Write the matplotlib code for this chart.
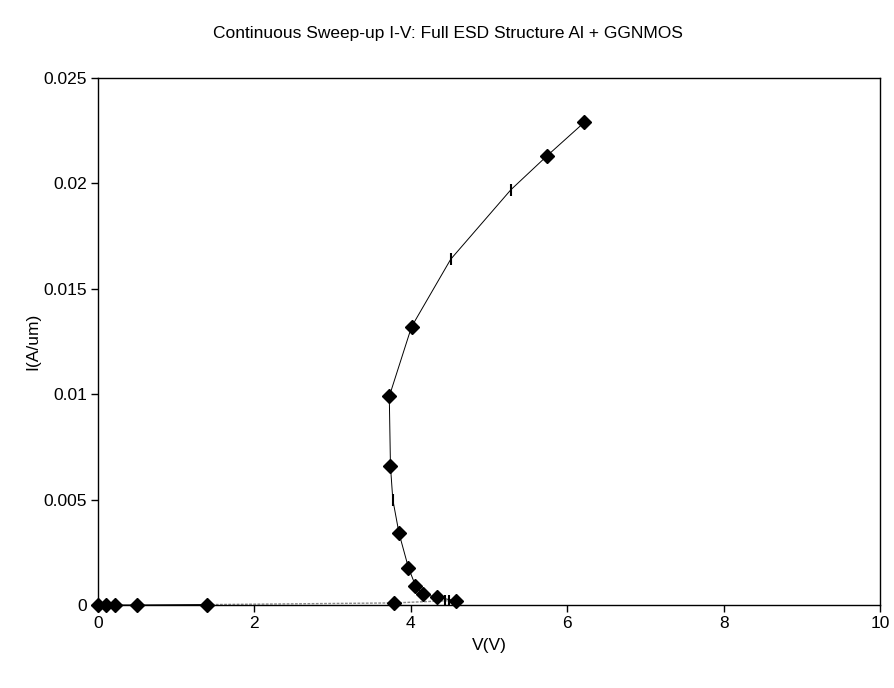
import matplotlib
matplotlib.use("Agg")
import matplotlib.pyplot as plt

plt.rcParams['font.family'] = ['Liberation Sans', 'DejaVu Sans']

# measured sweep points (diamonds)
v_meas = [0.0, 0.1, 0.22, 0.5, 1.4, 3.79, 4.58, 4.33, 4.15, 4.06, 3.97, 3.85, 3.74, 3.725, 4.01, 5.74, 6.22]
i_meas = [0.0, 0.0, 0.0, 0.0, 0.00002, 0.0001, 0.0002, 0.00037, 0.00052, 0.00092, 0.00177, 0.0034,
          0.0066, 0.0099, 0.0132, 0.0213, 0.0229]

# second series drawn with dash markers
v_dash = [4.44, 4.49, 3.77, 4.51, 5.28]
i_dash = [0.0002, 0.0002, 0.005, 0.0164, 0.0197]

# sweep path through both series, in sweep order
v_path = [0.0, 0.1, 0.22, 0.5, 1.4, 3.79, 4.44, 4.49, 4.58, 4.33, 4.15, 4.06, 3.97, 3.85, 3.77, 3.74, 3.725,
          4.01, 4.51, 5.28, 5.74, 6.22]
i_path = [0.0, 0.0, 0.0, 0.0, 0.00002, 0.0001, 0.0002, 0.0002, 0.0002, 0.00037, 0.00052, 0.00092, 0.00177,
          0.0034, 0.005, 0.0066, 0.0099, 0.0132, 0.0164, 0.0197, 0.0213, 0.0229]

xticks = [0, 2, 4, 6, 8, 10]
yticks = [0, 0.005, 0.01, 0.015, 0.02, 0.025]
ytick_labels = ['0', '0.005', '0.01', '0.015', '0.02', '0.025']

fig = plt.figure(figsize=(8.95, 6.88), dpi=100)
ax = fig.add_axes([0.1095, 0.1206, 0.8737, 0.766])

# low-current stretch in light grey, the rest in thin black
ax.plot(v_path[4:9], i_path[4:9], color='#8a8a8a', lw=1.0, ls=(0, (2, 1)), zorder=2)
ax.plot(v_path[:5], i_path[:5], color='black', lw=0.8, zorder=2)
ax.plot(v_path[8:], i_path[8:], color='black', lw=0.7, zorder=2)
ax.plot(v_meas, i_meas, ls='none', marker='D', ms=7, color='black', zorder=3, clip_on=False)
ax.plot(v_dash, i_dash, ls='none', marker='|', ms=8, mew=1.5, color='black', zorder=3)

ax.set_xlim(0, 10)
ax.set_ylim(0, 0.025)
ax.set_xticks(xticks)
ax.set_yticks(yticks)
ax.set_yticklabels(ytick_labels)
ax.tick_params(direction='out', length=5, width=1, labelsize=12.5, pad=3)

for s in ax.spines.values():
    s.set_linewidth(1)
    s.set_color('black')

ax.set_xlabel('V(V)', fontsize=12.5, labelpad=5)
ax.set_ylabel('I(A/um)', fontsize=12.5)
ax.yaxis.set_label_coords(-0.074, 0.5)

fig.text(0.5, 0.952, 'Continuous Sweep-up I-V: Full ESD Structure Al + GGNMOS',
         ha='center', va='center', fontsize=12.5)

fig.savefig('out.png', dpi=100)
